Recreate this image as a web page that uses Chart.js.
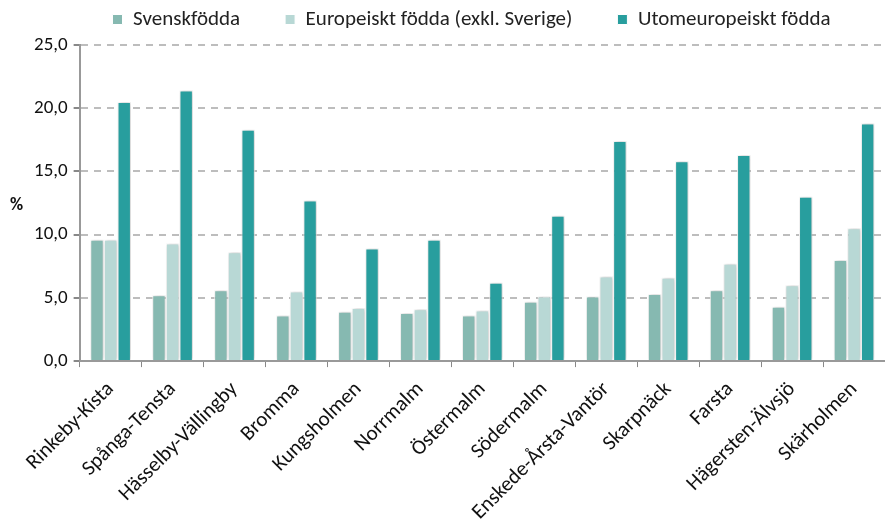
<!DOCTYPE html>
<html>
<head>
<meta charset="utf-8">
<script src="https://cdn.jsdelivr.net/npm/chart.js@4"></script>
<style>
  body { margin: 0; background: #fff; }
  #wrap { position: relative; width: 885px; height: 522px; }
  #pct { position: absolute; left: 10px; top: 193px; font: bold 18px Carlito, Lato, sans-serif; color: #111; }
</style>
</head>
<body>
<div id="wrap">
  <canvas id="myChart" width="885" height="522"></canvas>
  <div id="pct">%</div>
</div>
<script>
'use strict';
//data
let districts = ['Rinkeby-Kista', 'Spånga-Tensta', 'Hässelby-Vällingby', 'Bromma', 'Kungsholmen', 'Norrmalm', 'Östermalm', 'Södermalm', 'Enskede-Årsta-Vantör', 'Skarpnäck', 'Farsta', 'Hägersten-Älvsjö', 'Skärholmen'];
let svenskfodda = [9.6, 5.2, 5.6, 3.6, 3.9, 3.8, 3.6, 4.7, 5.1, 5.3, 5.6, 4.3, 8.0];
let europeiskt = [9.6, 9.3, 8.6, 5.5, 4.2, 4.1, 4.0, 5.1, 6.7, 6.6, 7.7, 6.0, 10.5];
let utomeuropeiskt = [20.5, 21.4, 18.3, 12.7, 8.9, 9.6, 6.2, 11.5, 17.4, 15.8, 16.3, 13.0, 18.8];
let yTicks = [0, 5, 10, 15, 20, 25];

let fontName = 'Carlito, Lato, sans-serif';

//shadow behind the bars
const barShadow = {
  id: 'barShadow',
  beforeDatasetsDraw(chart){
    let c = chart.ctx;
    c.save();
    c.shadowColor = 'rgba(0,0,0,0.25)';
    c.shadowBlur = 4;
    c.shadowOffsetX = 1;
    c.shadowOffsetY = 0;
  },
  afterDatasetsDraw(chart){
    chart.ctx.restore();
  }
};

//a bit more room under the legend, and nudge it right/down
const legendRoom = {
  id: 'legendRoom',
  beforeInit(chart){
    let origFit = chart.legend.fit;
    chart.legend.fit = function(){
      origFit.call(this);
      this.height += 7;
    };
  },
  afterLayout(chart){
    let lg = chart.legend;
    lg.left += 15;
    lg.right += 15;
    lg.top += 2;
    lg.bottom += 2;
  }
};

function makeSet(label, data, color){
  return {
    label: label,
    data: data,
    backgroundColor: color,
    borderColor: '#ffffff',
    borderWidth: 1,
    barPercentage: 0.98,
    categoryPercentage: 0.66
  };
}

const ctx = document.getElementById('myChart');
new Chart(ctx, {
  type: 'bar',
  data: {
    labels: districts,
    datasets: [
      makeSet('Svenskfödda', svenskfodda, '#86b9b1'),
      makeSet('Europeiskt födda (exkl. Sverige)', europeiskt, '#b8d8d5'),
      makeSet('Utomeuropeiskt födda', utomeuropeiskt, '#289e9e')
    ]
  },
  options: {
    responsive: false,
    animation: false,
    layout: { padding: { left: 28, right: 0, top: -38, bottom: -13 } },
    plugins: {
      legend: {
        position: 'top',
        labels: {
          font: { family: fontName, size: 21 },
          color: '#222',
          boxWidth: 10,
          boxHeight: 10,
          padding: 45
        }
      },
      tooltip: { enabled: false }
    },
    scales: {
      x: {
        grid: { display: true, drawOnChartArea: false, offset: true, tickLength: 6, color: '#888', lineWidth: 1 },
        border: { color: '#999', width: 2 },
        ticks: {
          font: { family: fontName, size: 21 },
          color: '#111',
          minRotation: 45,
          maxRotation: 45,
          autoSkip: false,
          padding: 10
        }
      },
      y: {
        min: 0,
        max: 25,
        afterBuildTicks(axis){
          axis.ticks = yTicks.map(v => ({ value: v }));
        },
        grid: { color: '#bdbdbd', lineWidth: 2, tickLength: 6, tickColor: '#888', tickBorderDash: [] },
        border: { color: '#999', width: 2, dash: [7, 6] },
        ticks: {
          font: { family: fontName, size: 19 },
          color: '#111',
          padding: 6,
          callback: v => v.toFixed(1).replace('.', ',')
        }
      }
    }
  },
  plugins: [barShadow, legendRoom]
});
</script>
</body>
</html>
